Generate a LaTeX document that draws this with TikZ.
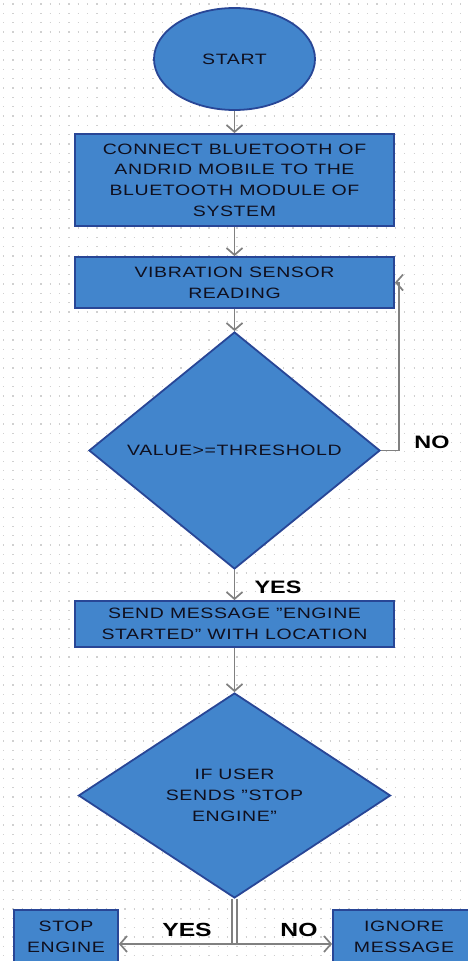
\documentclass[tikz,border=0pt]{standalone}
\usepackage{fontspec}
\setmainfont{Liberation Sans}[FakeStretch=1.3,LetterSpace=4]
\newfontfamily\answerfont{Liberation Sans}[FakeStretch=1.3]
\usetikzlibrary{shapes.geometric,arrows.meta}
\definecolor{fillblue}{RGB}{66,133,204}
\definecolor{edgeblue}{RGB}{40,70,150}
\definecolor{linegray}{RGB}{128,128,128}
\definecolor{dotgray}{RGB}{208,208,208}
\definecolor{txt}{RGB}{15,15,30}
\begin{document}
\begin{tikzpicture}[x=1pt,y=-1pt,
  shapebase/.style={draw=edgeblue, fill=fillblue, line width=1.8pt, text=txt,
    font=\fontsize{15}{20.7}\selectfont, align=center, inner sep=0pt},
  procbox/.style={shapebase, rectangle, minimum width=#1},
  decision/.style={shapebase, diamond},
  terminal/.style={shapebase, ellipse},
  flow/.style={draw=linegray, line width=1.7pt, -{Straight Barb[length=7pt,width=16pt]}},
  answer/.style={text=black, font=\answerfont\fontsize{18}{20}\selectfont\bfseries, inner sep=0pt}
]
\useasboundingbox (0,0) rectangle (467,961);
\fill[white] (0,0) rectangle (467,961);
% dotted grid
\foreach \j in {0,...,103} {
  \draw[dotgray, line width=1.3pt, dash pattern=on 1.3pt off 8.03pt] (3,{4+\j*9.33}) -- (467,{4+\j*9.33});
}

\node[terminal, minimum width=161pt, minimum height=102pt] (start) at (234.5,59) {START};
\node[procbox=319pt, minimum height=92pt] (b1) at (234.5,180)
  {CONNECT BLUETOOTH OF\\ANDRID MOBILE TO THE\\BLUETOOTH MODULE OF\\SYSTEM};
\node[procbox=319pt, minimum height=51pt] (b2) at (234.5,282.5)
  {VIBRATION SENSOR\\READING};
\node[decision, minimum width=291pt, minimum height=237pt] (d1) at (234.5,450.5)
  {VALUE>=THRESHOLD};
\node[procbox=319pt, minimum height=46pt] (b3) at (234.5,624)
  {SEND MESSAGE "ENGINE\\STARTED" WITH LOCATION};
\node[decision, minimum width=312pt, minimum height=205pt] (d2) at (234.5,795.5)
  {IF USER\\SENDS "STOP\\ENGINE"};
\node[procbox=104pt, minimum height=54pt] (stop) at (66,937) {STOP\\ENGINE};
\node[procbox=142pt, minimum height=54pt] (ignore) at (404,937) {IGNORE\\MESSAGE};

\node[answer] (no1) at (432,442) {NO};
\node[answer] (yes1) at (278,587) {YES};
\node[answer, font=\answerfont\fontsize{19}{20}\selectfont\bfseries] (yes2) at (187,930) {YES};
\node[answer, font=\answerfont\fontsize{19}{20}\selectfont\bfseries] (no2) at (299,930) {NO};

\draw[flow] (start) -- (b1);
\draw[flow] (b1) -- (b2);
\draw[flow] (b2) -- (d1);
\draw[flow] (d1.east) -- ++(18,0) |- (b2.east);
\draw[flow] (d1) -- (b3);
\draw[flow] (b3) -- (d2);
\coordinate (split) at (234.5,944);
\draw[linegray, line width=1.6pt, double=white, double distance=3pt] (d2.south) -- (split);
\draw[flow] (split) -- (split -| stop.east);
\draw[flow] (split) -- (split -| ignore.west);
\end{tikzpicture}
\end{document}
